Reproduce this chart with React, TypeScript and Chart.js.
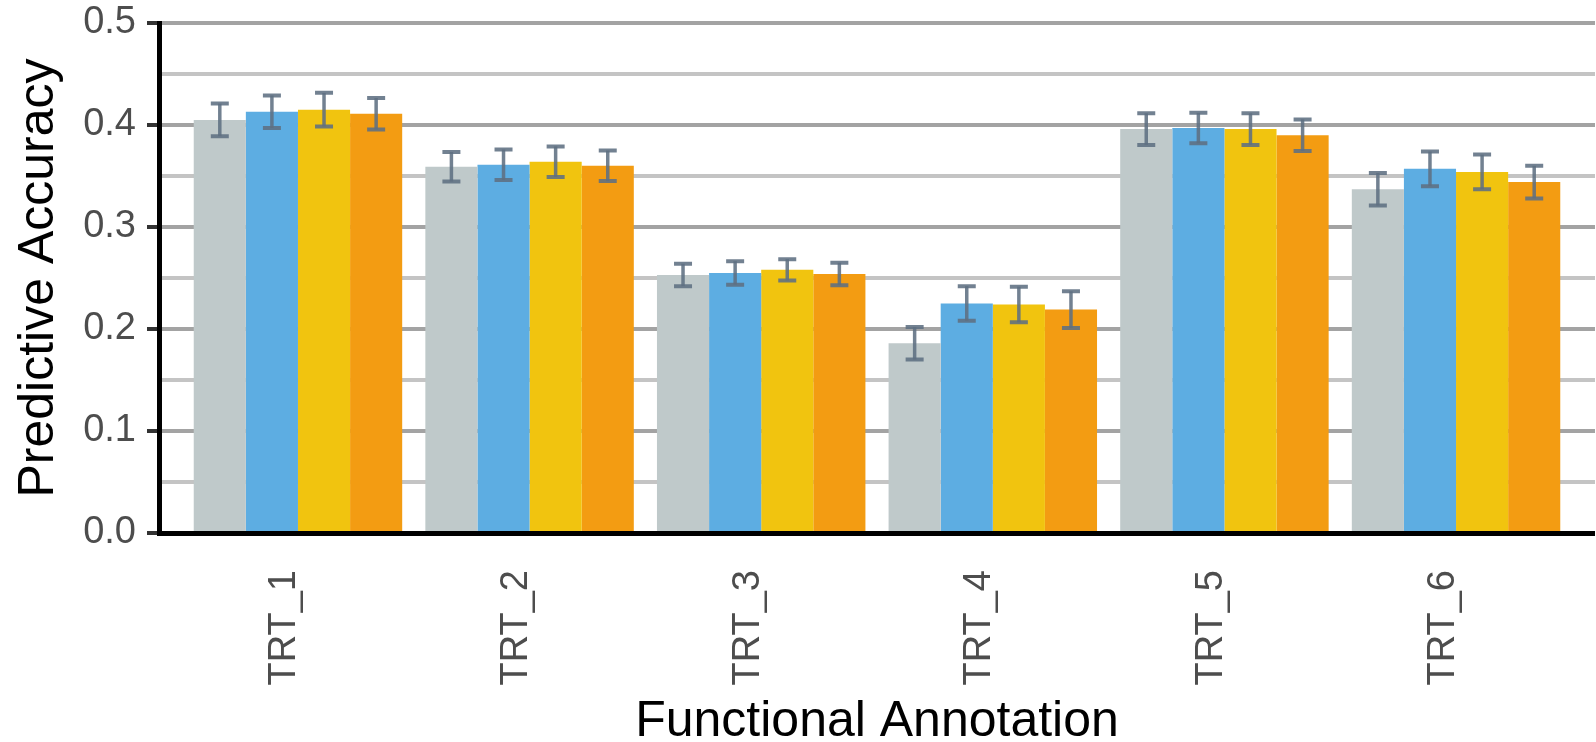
import React, { useEffect, useRef } from "react";
import { Chart, registerables } from "chart.js";

Chart.register(...registerables);

const categories = ["TRT_1", "TRT_2", "TRT_3", "TRT_4", "TRT_5", "TRT_6"];
const seriesNames = ["Series 1", "Series 2", "Series 3", "Series 4"];
const seriesColors = ["#BFC9CA", "#5DADE2", "#F1C40F", "#F39C12"];

const meansS1 = [0.405, 0.359, 0.253, 0.186, 0.396, 0.337];
const meansS2 = [0.413, 0.361, 0.255, 0.225, 0.397, 0.357];
const meansS3 = [0.415, 0.364, 0.258, 0.224, 0.396, 0.354];
const meansS4 = [0.411, 0.36, 0.254, 0.219, 0.39, 0.344];

const errS1 = [0.016, 0.0145, 0.011, 0.016, 0.0155, 0.016];
const errS2 = [0.016, 0.015, 0.0115, 0.017, 0.015, 0.017];
const errS3 = [0.0165, 0.015, 0.0105, 0.0175, 0.0155, 0.017];
const errS4 = [0.0155, 0.015, 0.011, 0.018, 0.0155, 0.016];

const yTickValues = [0, 0.05, 0.1, 0.15, 0.2, 0.25, 0.3, 0.35, 0.4, 0.45, 0.5];

const allMeans = [meansS1, meansS2, meansS3, meansS4];
const allErrs = [errS1, errS2, errS3, errS4];

const FONT = "'Liberation Sans', Arial, Helvetica, sans-serif";

const isMajor = (v: number) => Math.round(v * 100) % 10 === 0;

const errorBarPlugin = {
  id: "errorBars",
  afterDatasetsDraw(chart: any) {
    const ctx = chart.ctx;
    const yScale = chart.scales.y;
    ctx.save();
    ctx.strokeStyle = "rgba(95,112,130,0.88)";
    allMeans.forEach((means, d) => {
      const meta = chart.getDatasetMeta(d);
      meta.data.forEach((el: any, i: number) => {
        const v = means[i];
        const e = allErrs[d][i];
        const x = el.x;
        const yTop = yScale.getPixelForValue(v + e);
        const yBot = yScale.getPixelForValue(v - e);
        const half = 9;
        ctx.lineWidth = 3.5;
        ctx.beginPath();
        ctx.moveTo(x, yTop);
        ctx.lineTo(x, yBot);
        ctx.stroke();
        ctx.lineWidth = 4;
        ctx.beginPath();
        ctx.moveTo(x - half, yTop);
        ctx.lineTo(x + half, yTop);
        ctx.moveTo(x - half, yBot);
        ctx.lineTo(x + half, yBot);
        ctx.stroke();
      });
    });
    ctx.restore();
  },
};

export default function App() {
  const canvasRef = useRef<HTMLCanvasElement | null>(null);

  useEffect(() => {
    if (!canvasRef.current) return;
    const datasets = allMeans.map((means, d) => ({
      label: seriesNames[d],
      data: means.map((v, i) => ({ x: i + 1, y: v })),
      backgroundColor: seriesColors[d],
      borderWidth: 0,
      categoryPercentage: 0.9,
      barPercentage: 1.0,
    }));

    const chart = new Chart(canvasRef.current, {
      type: "bar",
      data: { datasets },
      plugins: [errorBarPlugin],
      options: {
        animation: false,
        responsive: false,
        devicePixelRatio: 1,
        layout: { padding: { top: 0, right: 1, left: 0, bottom: 0 } },
        plugins: {
          legend: { display: false },
          tooltip: { enabled: false },
        },
        scales: {
          x: {
            type: "linear",
            min: 0.4,
            max: 6.6,
            offset: false,
            afterBuildTicks: (scale: any) => {
              scale.ticks = categories.map((_, i) => ({ value: i + 1 }));
            },
            afterFit: (scale: any) => {
              scale.height = 209;
              scale.paddingLeft = 0;
              scale.paddingRight = 0;
            },
            ticks: {
              autoSkip: false,
              minRotation: 90,
              maxRotation: 90,
              padding: 37,
              labelOffset: -13,
              color: "#4D4D4D",
              font: { family: FONT, size: 38 },
              callback: (v: any) => {
                const idx = Math.round(Number(v)) - 1;
                return categories[idx] ?? "";
              },
            },
            grid: {
              display: true,
              offset: false,
              drawTicks: false,
              drawOnChartArea: false,
              color: "rgba(0,0,0,0)",
              lineWidth: 0,
            },
            border: { display: true, color: "#000000", width: 5 },
            title: {
              display: true,
              text: "Functional Annotation",
              color: "#000000",
              font: { family: FONT, size: 50, lineHeight: 0.8 },
              padding: { top: 0, bottom: 0 },
            },
          },
          y: {
            type: "linear",
            min: 0,
            max: 0.5,
            afterBuildTicks: (scale: any) => {
              scale.ticks = yTickValues.map((v) => ({ value: v }));
            },
            afterFit: (scale: any) => {
              scale.width = 159;
              scale.paddingTop = 23;
              scale.paddingBottom = 0;
            },
            ticks: {
              autoSkip: false,
              padding: 11,
              color: "#4D4D4D",
              font: { family: FONT, size: 38 },
              callback: (v: any) => (isMajor(Number(v)) ? Number(v).toFixed(1) : ""),
            },
            grid: {
              display: true,
              drawTicks: true,
              tickLength: 12,
              tickWidth: 4,
              lineWidth: 4,
              color: (c: any) => (isMajor(c.tick ? c.tick.value : 0) ? "#A3A3A3" : "#C4C4C4"),
              tickColor: (c: any) => (isMajor(c.tick ? c.tick.value : 0) ? "#333333" : "rgba(0,0,0,0)"),
            },
            border: { display: true, color: "#000000", width: 5 },
            title: {
              display: true,
              text: "Predictive Accuracy",
              color: "#000000",
              font: { family: FONT, size: 50, lineHeight: 1 },
              padding: { top: 14, bottom: 0 },
            },
          },
        },
      } as any,
    });
    return () => chart.destroy();
  }, []);

  return (
    <div style={{ position: "fixed", left: 0, top: 0, width: 1596, height: 742, background: "#ffffff" }}>
      <canvas ref={canvasRef} width={1596} height={742} style={{ display: "block" }} />
    </div>
  );
}
